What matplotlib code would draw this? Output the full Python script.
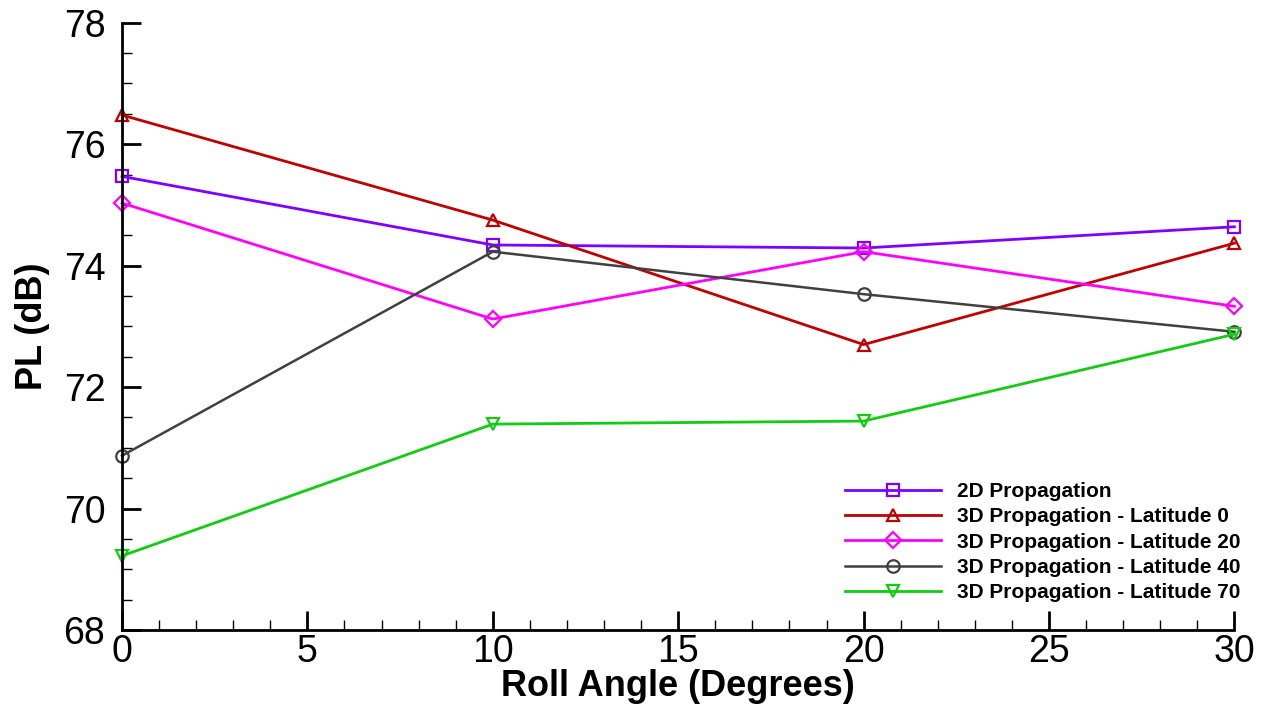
import matplotlib.pyplot as plt
from matplotlib.ticker import MultipleLocator

# === data ===
roll = [0, 10, 20, 30]
pl_2d = [75.47, 74.34, 74.29, 74.64]
pl_lat0 = [76.48, 74.75, 72.70, 74.37]
pl_lat20 = [75.03, 73.12, 74.23, 73.33]
pl_lat40 = [70.87, 74.23, 73.53, 72.91]
pl_lat70 = [69.22, 71.39, 71.44, 72.87]

series = [
    ("2D Propagation", pl_2d, "#8000FF", "s", 2.0),
    ("3D Propagation - Latitude 0", pl_lat0, "#C00000", "^", 2.0),
    ("3D Propagation - Latitude 20", pl_lat20, "#FF00FF", "D", 2.0),
    ("3D Propagation - Latitude 40", pl_lat40, "#404040", "o", 1.8),
    ("3D Propagation - Latitude 70", pl_lat70, "#11CC11", "v", 2.0),
]

plt.rcParams['font.family'] = ['Liberation Sans', 'DejaVu Sans']

fig = plt.figure(figsize=(12.67, 7.11), dpi=100)
ax = fig.add_axes([0.0963, 0.114, 0.878, 0.854])

for label, y, color, marker, lw in series:
    ms = 8 if marker == "D" else 9
    ax.plot(roll, y, color=color, lw=lw, marker=marker, ms=ms,
            mfc="none", mec=color, mew=1.6, label=label, clip_on=False)

ax.set_xlim(0, 30)
ax.set_ylim(68, 78)
ax.xaxis.set_major_locator(MultipleLocator(5))
ax.xaxis.set_minor_locator(MultipleLocator(1))
ax.yaxis.set_major_locator(MultipleLocator(2))
ax.yaxis.set_minor_locator(MultipleLocator(0.5))
ax.tick_params(which="both", direction="in", labelsize=27, width=2)
ax.tick_params(axis="y", pad=12)
ax.tick_params(axis="x", pad=3)
ax.tick_params(which="major", length=14)
ax.tick_params(which="minor", length=7, width=1)
ax.spines["top"].set_visible(False)
ax.spines["right"].set_visible(False)
for s in ("left", "bottom"):
    ax.spines[s].set_linewidth(2)

ax.set_xlabel("Roll Angle (Degrees)", fontsize=26, fontweight="bold", labelpad=-1)
ax.set_ylabel("PL (dB)", fontsize=26, fontweight="bold", labelpad=10)

leg = ax.legend(loc="lower right", bbox_to_anchor=(1.022, 0.015), frameon=False,
                prop={"size": 15, "weight": "bold"}, handlelength=4.6,
                numpoints=1, labelspacing=0.3, handletextpad=0.75)

fig.savefig("out.png", dpi=100)
